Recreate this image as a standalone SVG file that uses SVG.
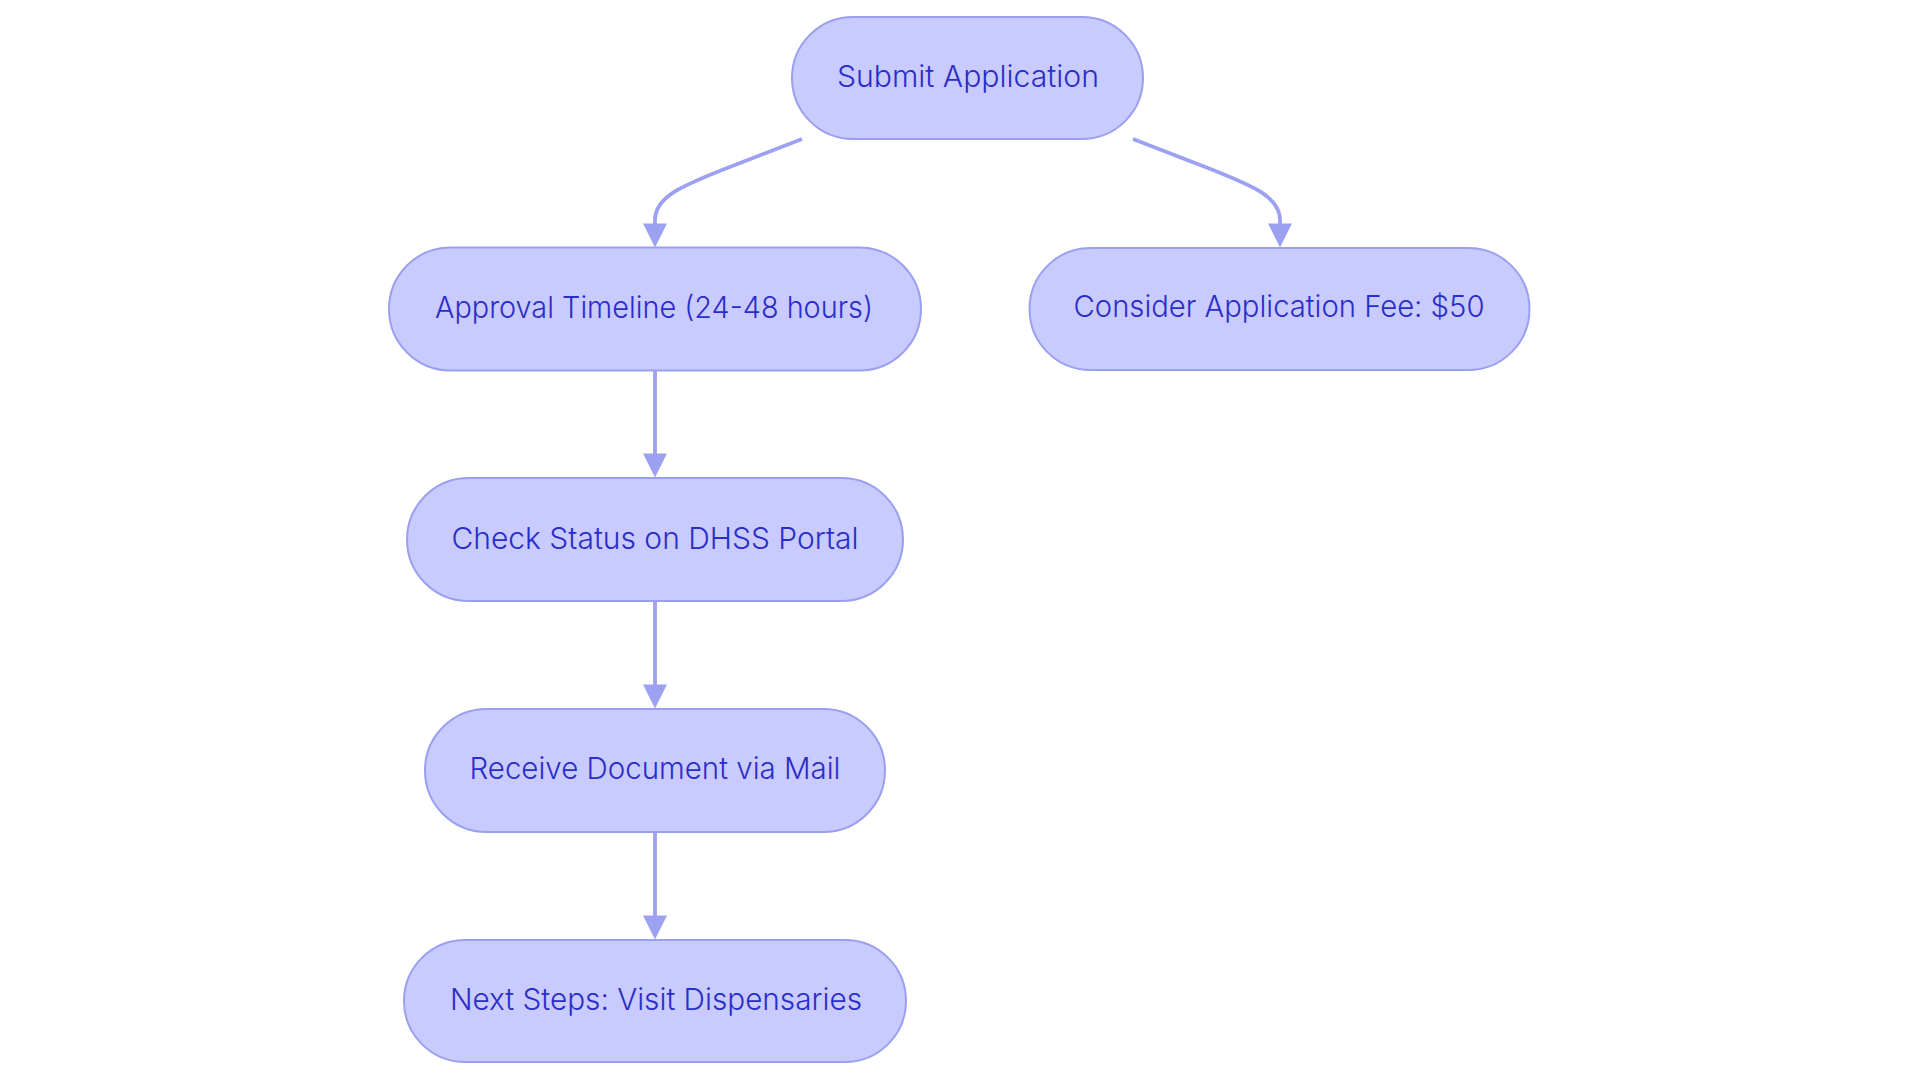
<svg xmlns="http://www.w3.org/2000/svg" width="1920" height="1083" viewBox="0 0 1920 1083">
<style>
.node rect{fill:#C9CAFD;stroke:#9A9FF0;stroke-width:2}
.node text{font-family:Inter,"Noto Sans","Liberation Sans",sans-serif;font-size:30px;font-weight:300;fill:#2A2EC9;text-anchor:middle}
.edge{fill:none;stroke:#9DA1F1;stroke-width:3.8}
</style>
<defs>
<marker id="arrow" viewBox="0 0 10 10" refX="8.5" refY="5" markerUnits="userSpaceOnUse" markerWidth="27" markerHeight="24" orient="auto">
<path d="M0,0 L10,5 L0,10 Z" fill="#9DA1F1"/>
</marker>
</defs>
<rect width="1920" height="1083" fill="#FFFFFF"/>
<g id="connectors">
<path class="edge" d="M802,139 L722,170 C682,186 655,197 655,220 L655,244" marker-end="url(#arrow)"/>
<path class="edge" d="M1133,139 L1213,170 C1253,186 1280,197 1280,220 L1280,244" marker-end="url(#arrow)"/>
<path class="edge" d="M655,371 L655,474" marker-end="url(#arrow)"/>
<path class="edge" d="M655,602 L655,705" marker-end="url(#arrow)"/>
<path class="edge" d="M655,833 L655,936" marker-end="url(#arrow)"/>
</g>
<g id="submit" class="node">
<rect x="792" y="17" width="351" height="122" rx="61" ry="61"/>
<text x="968" y="87" textLength="262" lengthAdjust="spacingAndGlyphs">Submit Application</text>
</g>
<g id="approval" class="node">
<rect x="389" y="247.5" width="532" height="123" rx="61.5" ry="61.5"/>
<text x="654" y="318" textLength="438" lengthAdjust="spacingAndGlyphs">Approval Timeline (24-48 hours)</text>
</g>
<g id="fee" class="node">
<rect x="1029.5" y="248" width="500" height="122" rx="61" ry="61"/>
<text x="1279" y="317" textLength="411" lengthAdjust="spacingAndGlyphs">Consider Application Fee: $50</text>
</g>
<g id="check" class="node">
<rect x="407" y="478" width="496" height="123" rx="61.5" ry="61.5"/>
<text x="655" y="549" textLength="407" lengthAdjust="spacingAndGlyphs">Check Status on DHSS Portal</text>
</g>
<g id="receive" class="node">
<rect x="425" y="709" width="460" height="123" rx="61.5" ry="61.5"/>
<text x="655" y="779" textLength="371" lengthAdjust="spacingAndGlyphs">Receive Document via Mail</text>
</g>
<g id="next" class="node">
<rect x="404" y="940" width="502" height="122" rx="61" ry="61"/>
<text x="656" y="1010" textLength="412" lengthAdjust="spacingAndGlyphs">Next Steps: Visit Dispensaries</text>
</g>
</svg>
